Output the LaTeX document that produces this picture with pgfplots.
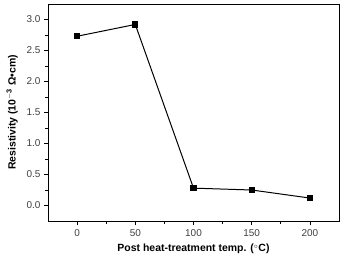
\documentclass[border=0pt]{standalone}
\usepackage{fontspec}
\setmainfont{Liberation Sans}
\usepackage{pgfplots}
\pgfplotsset{compat=1.18}
\begin{document}
\begin{tikzpicture}[x=1bp,y=1bp]
\begin{axis}[
  name=ax,
  scale only axis,
  width=291bp, height=217bp,
  xmin=-25, xmax=225, ymin=-0.25, ymax=3.25,
  xtick={0,50,100,150,200},
  ytick={0,0.5,1,1.5,2,2.5,3},
  minor x tick num=1, minor y tick num=1,
  yticklabel style={/pgf/number format/fixed,/pgf/number format/fixed zerofill,/pgf/number format/precision=1},
  xticklabel style={yshift=-1.5bp},
  /pgf/number format/assume math mode=true,
  tick align=outside,
  xtick pos=bottom, ytick pos=left,
  tick style={black, line width=0.8pt},
  major tick length=4bp, minor tick length=2.5bp,
  axis line style={line width=1pt},
  ticklabel style={font=\fontsize{10}{12}\selectfont, text=black!75},
  xlabel={\textbf{Post heat-treatment temp. (\textsuperscript{$\circ$}C)}},
  ylabel={\textbf{Resistivity (10\textsuperscript{$-$3} Ω•cm)}},
  label style={font=\fontsize{10.5}{12}\selectfont},
  xlabel style={yshift=-0.5bp},
  ylabel style={yshift=2bp},
]
\addplot[black, line width=1pt, mark=square*, mark size=2.6pt] coordinates {
(0,2.73) (50,2.92) (100,0.28) (150,0.25) (200,0.12)
};
\end{axis}
\pgfresetboundingbox
\useasboundingbox ([shift={(-48bp,-34bp)}]ax.south west) rectangle ([shift={(2bp,4bp)}]ax.north east);
\end{tikzpicture}
\end{document}
